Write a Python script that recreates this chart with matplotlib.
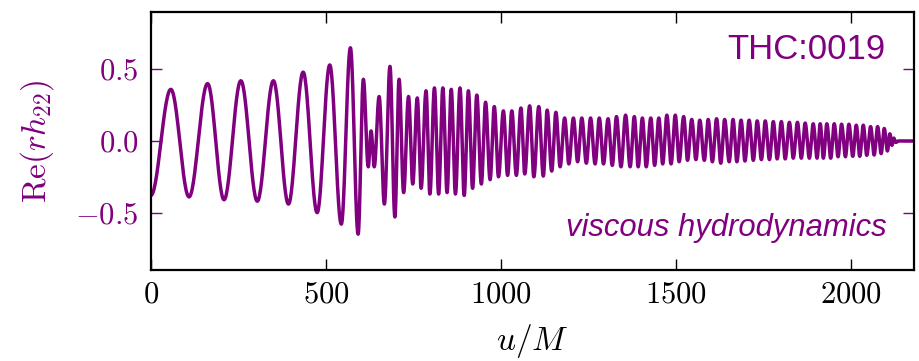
import numpy as np
import matplotlib
matplotlib.use("Agg")
import matplotlib.pyplot as plt

plt.rcParams['font.family'] = 'serif'
plt.rcParams['font.serif'] = ['cmr10']
plt.rcParams['mathtext.fontset'] = 'cm'
plt.rcParams['axes.formatter.use_mathtext'] = True

# extrema of the waveform (u/M, Re(r h22))
ext_t = [0, 57, 109, 162, 209, 257, 304, 350, 393, 435, 475, 511, 544, 570, 592,
         607, 621, 629, 638, 652, 667, 683, 697, 709, 722, 736, 748, 761, 772, 786,
         797, 810, 822, 834, 846, 858, 870, 883, 895, 907, 919, 931, 944, 956, 969,
         981, 993, 1007, 1019, 1031, 1044, 1057, 1068, 1082, 1094, 1108, 1121, 1132,
         1145, 1157, 1169, 1182, 1194, 1207, 1219, 1231, 1244, 1256, 1269, 1281, 1293,
         1306, 1318, 1330, 1343, 1356, 1369, 1381, 1392, 1404, 1415, 1428, 1439, 1451,
         1462, 1474, 1486, 1498, 1509, 1522, 1533, 1545, 1557, 1568, 1581, 1592, 1604,
         1616, 1628, 1639, 1652, 1663, 1674, 1686, 1697, 1709, 1721, 1732, 1744, 1755,
         1767, 1778, 1789, 1801, 1812, 1824, 1835, 1847, 1858, 1869, 1881, 1892, 1903,
         1912, 1921, 1931, 1942, 1952, 1963, 1973, 1984, 1994, 2005, 2015, 2025, 2035,
         2045, 2056, 2066, 2076, 2086, 2095, 2104, 2111, 2117, 2122, 2128, 2136, 2180]
ext_h = [-0.38, 0.36, -0.39, 0.40, -0.41, 0.42, -0.42, 0.42, -0.44, 0.48, -0.50, 0.53,
         -0.58, 0.65, -0.65, 0.43, -0.18, 0.07, -0.18, 0.31, -0.44, 0.52, -0.53, 0.43,
         -0.36, 0.31, -0.30, 0.30, -0.33, 0.35, -0.37, 0.37, -0.37, 0.37, -0.36, 0.36,
         -0.37, 0.37, -0.38, 0.35, -0.33, 0.32, -0.30, 0.27, -0.27, 0.24, -0.25, 0.21,
         -0.24, 0.21, -0.24, 0.23, -0.23, 0.245, -0.25, 0.24, -0.245, 0.215, -0.21, 0.20,
         -0.18, 0.16, -0.16, 0.16, -0.145, 0.16, -0.155, 0.16, -0.16, 0.16, -0.16, 0.155,
         -0.17, 0.17, -0.18, 0.18, -0.18, 0.17, -0.18, 0.16, -0.18, 0.16, -0.17, 0.16,
         -0.16, 0.18, -0.16, 0.18, -0.145, 0.17, -0.135, 0.15, -0.13, 0.145, -0.135, 0.15,
         -0.145, 0.155, -0.155, 0.15, -0.145, 0.15, -0.145, 0.145, -0.14, 0.145, -0.135,
         0.14, -0.13, 0.14, -0.13, 0.135, -0.125, 0.135, -0.125, 0.13, -0.12, 0.13, -0.12,
         0.125, -0.12, 0.12, -0.12, 0.12, -0.12, 0.12, -0.12, 0.12, -0.11, 0.117, -0.11,
         0.117, -0.107, 0.11, -0.107, 0.11, -0.10, 0.10, -0.098, 0.10, -0.088, 0.087,
         -0.07, 0.05, -0.03, 0.02, -0.01, 0.0, 0.0]

x_ticks = [0, 500, 1000, 1500, 2000]
y_ticks = [-0.5, 0.0, 0.5]

purple = '#800080'

# smooth half-cosine between consecutive extrema
tt, hh = [], []
for i in range(len(ext_t) - 1):
    s = np.linspace(0, 1, 30, endpoint=False)
    tt.append(ext_t[i] + s * (ext_t[i + 1] - ext_t[i]))
    hh.append(ext_h[i] + (ext_h[i + 1] - ext_h[i]) * (1 - np.cos(np.pi * s)) / 2)
tt.append([ext_t[-1]])
hh.append([ext_h[-1]])
tt = np.concatenate(tt)
hh = np.concatenate(hh)

fig = plt.figure(figsize=(9.2, 3.61), dpi=100)
ax = fig.add_axes([0.164, 0.252, 0.8295, 0.715])
ax.plot(tt, hh, color=purple, lw=2.5)

ax.set_xlim(0, 2180)
ax.set_ylim(-0.9, 0.9)
ax.set_xticks(x_ticks)
ax.set_yticks(y_ticks)
ax.tick_params(direction='in', length=8, width=1, labelsize=22, top=True, right=True, pad=8)
ax.tick_params(axis='y', colors=purple, labelcolor=purple, pad=9)
for sp in ax.spines.values():
    sp.set_linewidth(1.6)

ax.set_xlabel(r'$u/M$', fontsize=24, labelpad=10)
ax.set_ylabel(r'$\mathrm{Re}(rh_{22})$', fontsize=24, color=purple, labelpad=14)

ax.text(0.962, 0.855, 'THC:0019', transform=ax.transAxes, ha='right', va='center',
        fontsize=25, color=purple, family='Liberation Sans')
ax.text(0.964, 0.163, 'viscous hydrodynamics', transform=ax.transAxes, ha='right',
        va='center', fontsize=22.3, color=purple, family='Liberation Sans', style='italic')

fig.savefig('out.png', dpi=100)
